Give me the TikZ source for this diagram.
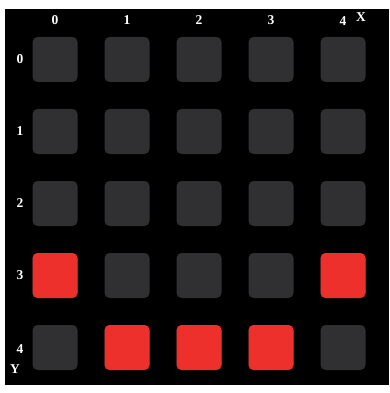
\documentclass[tikz,border=0pt]{standalone}
\usepackage{fontspec}
\setmainfont{Liberation Serif}
\definecolor{cellgray}{HTML}{303032}
\definecolor{cellred}{HTML}{EE302C}
\begin{document}
\begin{tikzpicture}[x=1pt,y=-1pt,
  cell/.style={minimum size=45pt,inner sep=0pt,rounded corners=5pt,fill=cellgray},
  hot/.style={cell,fill=cellred},
  lab/.style={text=white,font=\bfseries\fontsize{13.5}{13.5}\selectfont,inner sep=0pt}]
\useasboundingbox (0,0) rectangle (389,393);
\fill[white] (0,0) rectangle (389,393);
\fill[black] (5,9) rectangle (389,385);
\foreach \c in {0,...,4}{
  \foreach \r in {0,...,4}{
    \node[cell] (c\c\r) at ({55+72*\c},{59.5+72*\r}) {};
  }
}
\node[hot] (h03) at (55,275.5) {};
\node[hot] (h43) at (343,275.5) {};
\node[hot] (h14) at (127,347.5) {};
\node[hot] (h24) at (199,347.5) {};
\node[hot] (h34) at (271,347.5) {};
\foreach \c in {0,...,3}{
  \node[lab] (cx\c) at ({55+72*\c},20.5) {\c};
}
\node[lab] (cx4) at (343,21.5) {4};
\node[lab] (xl) at (361,17) {X};
\foreach \r in {0,...,3}{
  \node[lab] (ry\r) at (20,{59.5+72*\r}) {\r};
}
\node[lab] (ry4) at (20,349) {4};
\node[lab] (yl) at (15,369) {Y};
\end{tikzpicture}
\end{document}
